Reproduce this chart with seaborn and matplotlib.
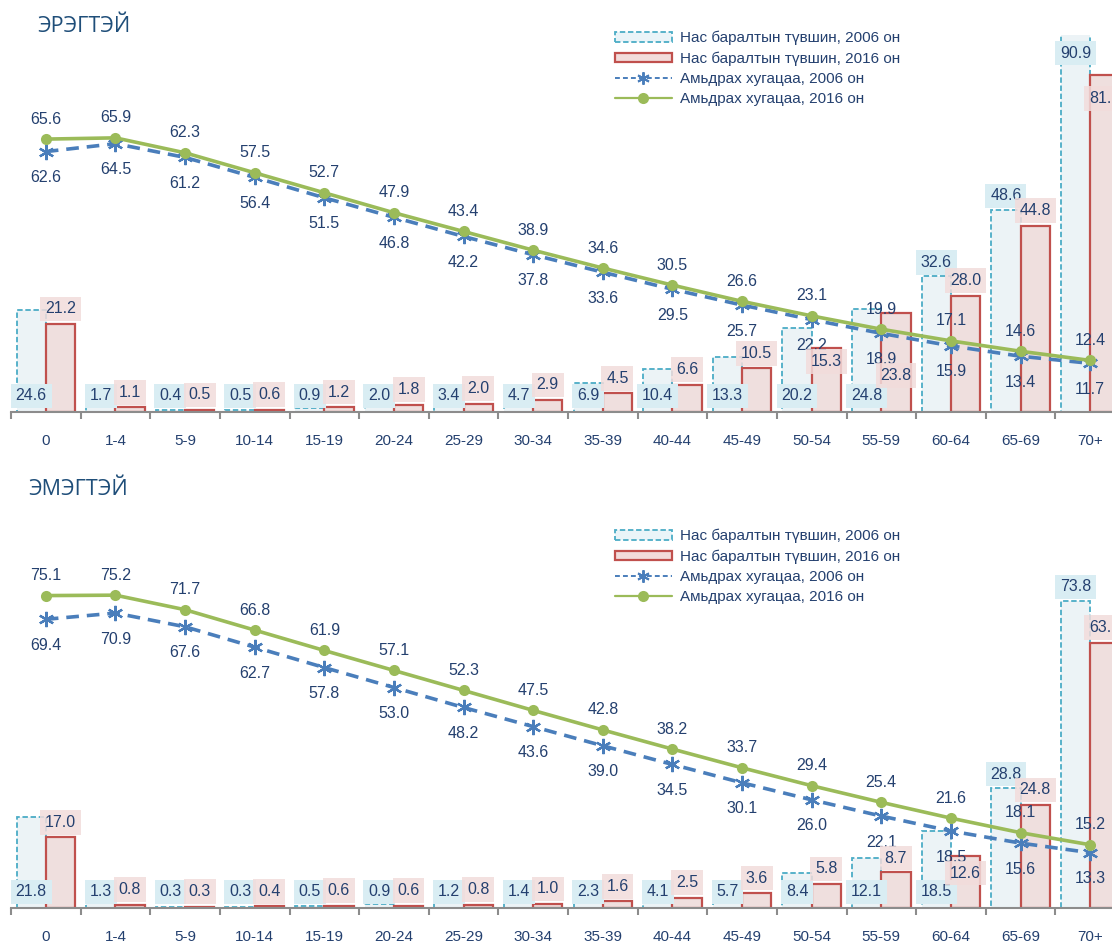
import numpy as np
import pandas as pd
import matplotlib
matplotlib.use("Agg")
import matplotlib.pyplot as plt
import seaborn as sns
from matplotlib.patches import Patch
from matplotlib.lines import Line2D

# age groups
ages = ["0", "1-4", "5-9", "10-14", "15-19", "20-24", "25-29", "30-34", "35-39",
        "40-44", "45-49", "50-54", "55-59", "60-64", "65-69", "70+"]

# male: mortality rate and life expectancy
male_rate_2006 = [24.6, 1.7, 0.4, 0.5, 0.9, 2.0, 3.4, 4.7, 6.9, 10.4, 13.3, 20.2, 24.8, 32.6, 48.6, 90.9]
male_rate_2016 = [21.2, 1.1, 0.5, 0.6, 1.2, 1.8, 2.0, 2.9, 4.5, 6.6, 10.5, 15.3, 23.8, 28.0, 44.8, 81.1]
male_life_2006 = [62.6, 64.5, 61.2, 56.4, 51.5, 46.8, 42.2, 37.8, 33.6, 29.5, 25.7, 22.2, 18.9, 15.9, 13.4, 11.7]
male_life_2016 = [65.6, 65.9, 62.3, 57.5, 52.7, 47.9, 43.4, 38.9, 34.6, 30.5, 26.6, 23.1, 19.9, 17.1, 14.6, 12.4]

# female
female_rate_2006 = [21.8, 1.3, 0.3, 0.3, 0.5, 0.9, 1.2, 1.4, 2.3, 4.1, 5.7, 8.4, 12.1, 18.5, 28.8, 73.8]
female_rate_2016 = [17.0, 0.8, 0.3, 0.4, 0.6, 0.6, 0.8, 1.0, 1.6, 2.5, 3.6, 5.8, 8.7, 12.6, 24.8, 63.8]
female_life_2006 = [69.4, 70.9, 67.6, 62.7, 57.8, 53.0, 48.2, 43.6, 39.0, 34.5, 30.1, 26.0, 22.1, 18.5, 15.6, 13.3]
female_life_2016 = [75.1, 75.2, 71.7, 66.8, 61.9, 57.1, 52.3, 47.5, 42.8, 38.2, 33.7, 29.4, 25.4, 21.6, 18.1, 15.2]

legend_labels = ["Нас баралтын түвшин, 2006 он", "Нас баралтын түвшин, 2016 он",
                 "Амьдрах хугацаа, 2006 он", "Амьдрах хугацаа, 2016 он"]

sns.set_style("white")
plt.rcParams["font.family"] = ["Liberation Sans", "DejaVu Sans"]

TXT = "#24406f"
C06_FILL, C06_EDGE = "#eaf4f8", "#4bacc6"
C16_FILL, C16_EDGE = "#f2dcdb", "#c0504d"
C06_LINE, C16_LINE = "#4a7ebb", "#9bbb59"

W, H = 1112, 944
fig = plt.figure(figsize=(W / 100, H / 100), dpi=100)


def draw_panel(ax, top_px, base_px, title, title_x, title_y, leg_top,
               r06, r16, l06, l16):
    ppu = 4.16  # pixels per unit
    ymax = (base_px - top_px) / ppu
    n = len(ages)
    df = pd.DataFrame({
        "age": ages * 2,
        "rate": r06 + r16,
        "year": ["2006"] * n + ["2016"] * n,
    })
    sns.barplot(data=df, x="age", y="rate", hue="year", width=0.84,
                palette=[C06_FILL, C16_FILL], legend=False, ax=ax, zorder=1)
    for bar in ax.containers[0]:
        bar.set_edgecolor(C06_EDGE)
        bar.set_linestyle((0, (3, 1.5)))
        bar.set_linewidth(1.3)
    for bar in ax.containers[1]:
        bar.set_edgecolor(C16_EDGE)
        bar.set_linewidth(1.6)

    xs = np.arange(n)
    sns.lineplot(x=xs, y=l06, ax=ax, color=C06_LINE, linewidth=2.6,
                 linestyle=(0, (3.5, 2.2)), marker=(6, 2, 0), markersize=11,
                 markeredgewidth=1.6, markeredgecolor=C06_LINE, zorder=4)
    sns.lineplot(x=xs, y=l16, ax=ax, color=C16_LINE, linewidth=2.6,
                 marker="o", markersize=8, markeredgewidth=0, zorder=5)

    ax.set_xlim(-0.5, n - 0.5)
    ax.set_ylim(0, ymax)
    fs = 11.5
    box = "square,pad=0.3"

    for i in range(n):
        # line labels (pixel heights above baseline)
        g_lab = l16[i] * ppu + 20
        b_lab = l06[i] * ppu - 26
        ax.text(i, g_lab / ppu, f"{l16[i]:.1f}", ha="center", va="center",
                color=TXT, fontsize=fs, zorder=6)
        ax.text(i, b_lab / ppu, f"{l06[i]:.1f}", ha="center", va="center",
                color=TXT, fontsize=fs, zorder=6)

        # 2006 bar label
        x06, x16 = i - 0.21, i + 0.21
        top_lim = ymax * ppu - 18
        if r06[i] <= 25:
            y06 = 16
            above06 = False
        else:
            y06 = min(r06[i] * ppu + 14, top_lim)
            above06 = True
        ax.text(x06, y06 / ppu, f"{r06[i]:.1f}", ha="center", va="center",
                color=TXT, fontsize=fs, zorder=7,
                bbox=dict(boxstyle=box, fc="#d9edf3", ec="none"))

        # 2016 bar label
        y16 = r16[i] * ppu + 15
        if above06 and abs(y16 - y06) < 12:
            y16 = r16[i] * ppu - 24
        elif abs(y16 - g_lab) < 20 or abs(y16 - b_lab) < 20:
            y16 = b_lab - 16
        ax.text(x16, y16 / ppu, f"{r16[i]:.1f}", ha="center", va="center",
                color=TXT, fontsize=fs, zorder=8,
                bbox=dict(boxstyle=box, fc=C16_FILL, ec="none", alpha=0.85))

    # axis styling
    sns.despine(ax=ax, left=True, top=True, right=True)
    ax.spines["bottom"].set_color("#8c8c8c")
    ax.spines["bottom"].set_linewidth(1.5)
    ax.set_yticks([])
    ax.set_xlabel("")
    ax.set_ylabel("")
    ax.set_xticks(xs)
    ax.set_xticklabels(ages)
    ax.set_xticks(np.arange(-0.5, n, 1.0), minor=True)
    ax.tick_params(axis="x", which="major", length=0, pad=16, labelsize=11,
                   labelcolor=TXT)
    ax.tick_params(axis="x", which="minor", length=5, width=1.5,
                   color="#8c8c8c", bottom=True)

    fig.text(title_x / W, 1 - title_y / H, title, fontsize=15.5, color="#1f4e79",
             family=["Open Sans", "DejaVu Sans"], ha="left", va="center")

    handles = [
        Patch(facecolor=C06_FILL, edgecolor=C06_EDGE, linestyle=(0, (3, 1.5)),
              linewidth=1.3),
        Patch(facecolor=C16_FILL, edgecolor=C16_EDGE, linewidth=1.6),
        Line2D([], [], color=C06_LINE, linestyle=(0, (2.5, 1.6)), linewidth=1.4,
               marker=(6, 2, 0), markersize=9, markeredgewidth=1.4),
        Line2D([], [], color=C16_LINE, linewidth=1.6, marker="o", markersize=8,
               markeredgewidth=0),
    ]
    fig.legend(handles, legend_labels, loc="upper left",
               bbox_to_anchor=(615 / W, 1 - leg_top / H), frameon=False,
               borderpad=0, borderaxespad=0, fontsize=11, labelcolor=TXT,
               handlelength=3.7, handleheight=0.55, handletextpad=0.55,
               labelspacing=0.4)


ax_top = fig.add_axes([11 / W, 1 - 412 / H, 1114 / W, 377 / H])
draw_panel(ax_top, 35, 412, "ЭРЭГТЭЙ", 37, 27, 31,
           male_rate_2006, male_rate_2016, male_life_2006, male_life_2016)

ax_bot = fig.add_axes([11 / W, 1 - 908 / H, 1114 / W, 388 / H])
draw_panel(ax_bot, 520, 908, "ЭМЭГТЭЙ", 28, 490, 529,
           female_rate_2006, female_rate_2016, female_life_2006, female_life_2016)

fig.savefig("out.png", dpi=100)
